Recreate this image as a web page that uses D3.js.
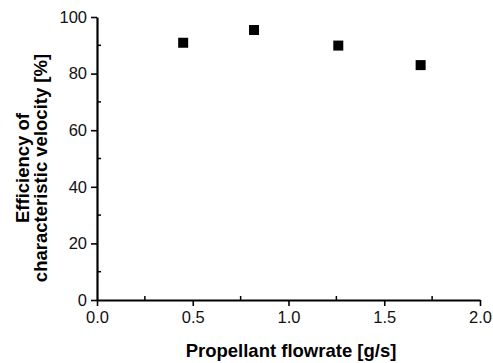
<!DOCTYPE html>
<html>
<head>
<meta charset="utf-8">
<script src="https://cdn.jsdelivr.net/npm/d3@7"></script>
<style>
  body { margin: 0; background: #fff; }
  text { font-family: Arial, "Liberation Sans", sans-serif; }
</style>
</head>
<body>
<svg id="chart" width="493" height="363"></svg>
<script>
// data
const flowrate = [0.45, 0.82, 1.26, 1.69];
const efficiency = [90.9, 95.4, 89.9, 83.0];
const xTicks = [0.0, 0.5, 1.0, 1.5, 2.0];
const yTicks = [0, 20, 40, 60, 80, 100];

const margin = {top: 17, right: 13, bottom: 63, left: 97},
    width = 493 - margin.left - margin.right,
    height = 363 - margin.top - margin.bottom;

const svg = d3.select("#chart");
const g = svg.append("g")
    .attr("transform", `translate(${margin.left},${margin.top})`);

const x = d3.scaleLinear().domain([0, 2]).range([0, width]);
const y = d3.scaleLinear().domain([0, 100]).range([height, 0]);

// minor ticks, pointing inward
g.selectAll("line.xminor")
    .data(d3.range(0.25, 2, 0.5))
    .enter().append("line")
    .attr("x1", d => x(d)).attr("x2", d => x(d))
    .attr("y1", height).attr("y2", height - 4)
    .attr("stroke", "#000").attr("stroke-width", 1.5);
g.selectAll("line.yminor")
    .data(d3.range(10, 100, 20))
    .enter().append("line")
    .attr("x1", 0).attr("x2", 4)
    .attr("y1", d => y(d)).attr("y2", d => y(d))
    .attr("stroke", "#000").attr("stroke-width", 1.5);

const xAxis = g.append("g")
    .attr("transform", `translate(0,${height})`)
    .call(d3.axisBottom(x).tickValues(xTicks).tickFormat(d3.format(".1f"))
        .tickSizeInner(6).tickSizeOuter(0).tickPadding(5));
const yAxis = g.append("g")
    .call(d3.axisLeft(y).tickValues(yTicks).tickFormat(d3.format("d"))
        .tickSizeInner(6).tickSizeOuter(0).tickPadding(4));

[xAxis, yAxis].forEach(a => {
  a.select(".domain").attr("stroke-width", 2.2).attr("stroke", "#000");
  a.selectAll(".tick line").attr("stroke-width", 1.6).attr("stroke", "#000");
  a.selectAll(".tick text").attr("font-size", 16.5).attr("fill", "#111")
      .style("font-family", "Arial, 'Liberation Sans', sans-serif");
});

g.selectAll("rect.pt")
    .data(flowrate.map((d, i) => [d, efficiency[i]]))
    .enter().append("rect")
    .attr("class", "pt")
    .attr("x", d => x(d[0]) - 5)
    .attr("y", d => y(d[1]) - 5)
    .attr("width", 10).attr("height", 10)
    .attr("fill", "#000");

svg.append("text")
    .attr("x", 291)
    .attr("y", 357)
    .attr("text-anchor", "middle")
    .attr("font-size", 18.5).attr("font-weight", "bold")
    .text("Propellant flowrate [g/s]");

const yl = svg.append("text")
    .attr("transform", "translate(0,168) rotate(-90)")
    .attr("text-anchor", "middle")
    .attr("font-size", 18.5).attr("font-weight", "bold");
yl.append("tspan").attr("x", 0).attr("y", 29).text("Efficiency of");
yl.append("tspan").attr("x", 0).attr("y", 47).text("characteristic velocity [%]");
</script>
</body>
</html>
